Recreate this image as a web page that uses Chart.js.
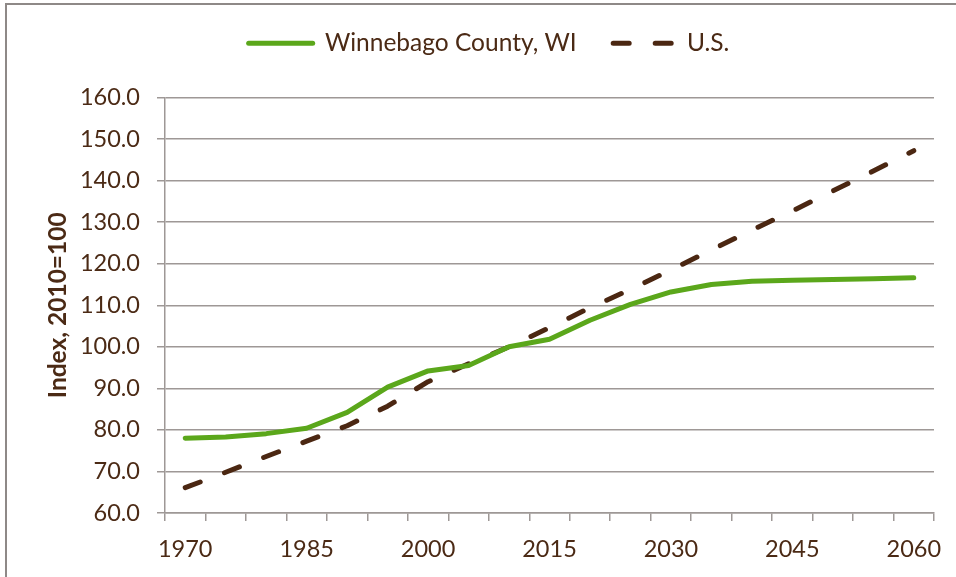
<!DOCTYPE html>
<html>
<head>
<meta charset="utf-8">
<script src="https://cdn.jsdelivr.net/npm/chart.js@4.4.1/dist/chart.umd.min.js"></script>
<style>
  html, body { margin: 0; padding: 0; background: #fff; }
  #wrap { position: relative; width: 956px; height: 577px; }
  #frame { position: absolute; left: 5px; top: 3px; width: 980px; height: 600px;
           border-left: 2px solid #8e8987; border-top: 2px solid #8e8987; pointer-events: none; }
</style>
</head>
<body>
<div id="wrap">
  <canvas id="chart" width="956" height="577"></canvas>
  <div id="frame"></div>
</div>
<script>
const years = ['1970', '1975', '1980', '1985', '1990', '1995', '2000', '2005', '2010', '2015',
  '2020', '2025', '2030', '2035', '2040', '2045', '2050', '2055', '2060'];
const winnebago = [78.0, 78.3, 79.1, 80.4, 84.2, 90.3, 94.2, 95.5, 100.0, 101.8,
  106.4, 110.2, 113.2, 115.0, 115.8, 116.0, 116.2, 116.4, 116.6];
const us = [66.1, 69.8, 73.6, 77.3, 81.0, 85.7, 91.6, 95.9, 100.0, 104.6,
  109.4, 113.8, 118.5, 123.3, 128.1, 132.7, 137.5, 142.3, 147.2];

const textColor = '#4b2a15';
const gridColor = '#9e9896';
const font = 'Lato, "Open Sans", sans-serif';

// more room under the legend, legend nudged right like the original
const legendTweak = {
  id: 'legendTweak',
  beforeInit(chart) {
    const fit = chart.legend.fit;
    chart.legend.fit = function () {
      fit.bind(chart.legend)();
      this.height += 27;
    };
  },
  beforeDraw(chart) {
    chart.legend.left = 44;
    chart.legend.top = -3;
  }
};

new Chart(document.getElementById('chart'), {
  type: 'line',
  data: {
    labels: years,
    datasets: [
      {
        label: 'Winnebago County, WI',
        data: winnebago,
        borderColor: '#5ba71b',
        backgroundColor: '#5ba71b',
        borderWidth: 5,
        borderCapStyle: 'round',
        borderJoinStyle: 'round',
        pointRadius: 0,
        tension: 0
      },
      {
        label: 'U.S.',
        data: us,
        borderColor: '#4b2712',
        backgroundColor: '#4b2712',
        borderWidth: 5,
        borderDash: [16, 26],
        borderCapStyle: 'round',
        borderJoinStyle: 'round',
        pointRadius: 0,
        tension: 0
      }
    ]
  },
  plugins: [legendTweak],
  options: {
    responsive: false,
    animation: false,
    layout: { padding: { top: 2, right: 22, bottom: 0, left: 0 } },
    plugins: {
      tooltip: { enabled: false },
      legend: {
        position: 'top',
        labels: {
          usePointStyle: true,
          pointStyle: 'line',
          pointStyleWidth: 64,
          padding: 34,
          color: textColor,
          font: { family: font, size: 24.5 },
          generateLabels: chart => {
            const items = Chart.defaults.plugins.legend.labels.generateLabels(chart);
            items.forEach(it => {
              const ds = chart.data.datasets[it.datasetIndex];
              it.lineWidth = ds.borderWidth;
              it.lineCap = 'round';
              it.strokeStyle = ds.borderColor;
              // two dashes in the key (drawn right to left), then a long gap
              if (ds.borderDash) {
                it.lineDash = [16, 26, 16, 200];
                it.lineDashOffset = 255.5;
              }
            });
            return items;
          }
        }
      }
    },
    scales: {
      x: {
        offset: true,
        afterFit: s => { s.height = 64; },
        grid: { offset: true, drawOnChartArea: false, drawTicks: true, tickLength: 8, color: gridColor, lineWidth: 1.5 },
        border: { display: true, color: gridColor, width: 1.5 },
        ticks: {
          autoSkip: false,
          maxRotation: 0,
          padding: 14,
          color: textColor,
          font: { family: font, size: 23.5 },
          callback: function (v, i) { return i % 3 === 0 ? this.getLabelForValue(v) : ''; }
        }
      },
      y: {
        min: 60,
        max: 160,
        afterFit: s => { s.width = 165; },
        grid: { color: gridColor, lineWidth: 1.5, tickLength: 8 },
        border: { display: true, color: gridColor, width: 1.5 },
        ticks: {
          stepSize: 10,
          padding: 17,
          color: textColor,
          font: { family: font, size: 23.5 },
          callback: v => v.toFixed(1)
        },
        title: {
          display: true,
          text: 'Index, 2010=100',
          color: textColor,
          padding: { top: 43, bottom: 0 },
          font: { family: font, size: 24.5, weight: 'bold' }
        }
      }
    }
  }
});
</script>
</body>
</html>
